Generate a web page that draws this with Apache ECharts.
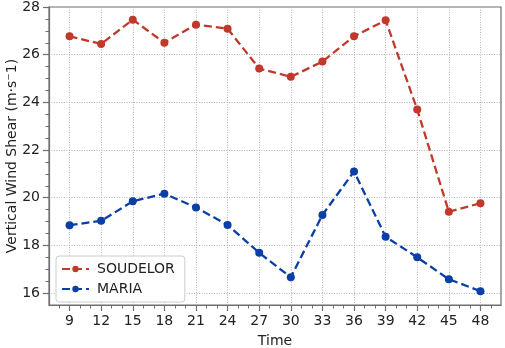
<!DOCTYPE html>
<html>
<head>
<meta charset="utf-8">
<script src="https://cdn.jsdelivr.net/npm/echarts@6/dist/echarts.min.js"></script>
<style>
  html, body { margin: 0; padding: 0; background: #fff; }
  #chart { width: 505px; height: 348px; }
</style>
</head>
<body>
<div id="chart"></div>
<script>
// data
var times = [9, 12, 15, 18, 21, 24, 27, 30, 33, 36, 39, 42, 45, 48]
var soudelor = [26.77, 26.45, 27.47, 26.5, 27.26, 27.09, 25.42, 25.07, 25.71, 26.77, 27.44, 23.7, 19.41, 19.77]
var maria = [18.85, 19.03, 19.85, 20.17, 19.59, 18.86, 17.69, 16.66, 19.28, 21.1, 18.36, 17.5, 16.58, 16.08]
var xTicks = [9, 12, 15, 18, 21, 24, 27, 30, 33, 36, 39, 42, 45, 48]
var xMinor = [8, 10, 11, 13, 14, 16, 17, 19, 20, 22, 23, 25, 26, 28, 29, 31, 32, 34, 35, 37, 38, 40, 41, 43, 44, 46, 47, 49]
var yTicks = [16, 18, 20, 22, 24, 26, 28]
var yMinor = [16.5, 17, 17.5, 18.5, 19, 19.5, 20.5, 21, 21.5, 22.5, 23, 23.5, 24.5, 25, 25.5, 26.5, 27, 27.5]

var font = 'DejaVu Sans'
var spine = '#6e6e6e'

function pairs(ys) {
  return times.map(function (t, i) { return [t, ys[i]] })
}

var chart = echarts.init(document.getElementById('chart'))

chart.setOption({
  animation: false,
  textStyle: { fontFamily: font },
  grid: {
    left: 49,
    right: 4,
    top: 7,
    bottom: 43,
    containLabel: false,
    outerBoundsMode: 'none',
    show: true,
    borderColor: spine,
    borderWidth: 1.2
  },
  legend: {
    orient: 'vertical',
    left: 56,
    top: 256,
    itemWidth: 27,
    itemHeight: 8,
    itemGap: 6,
    padding: [6, 10, 6, 5],
    backgroundColor: '#fff',
    borderColor: '#cccccc',
    borderWidth: 1,
    borderRadius: 3,
    textStyle: { fontSize: 14, color: '#222', fontFamily: font, padding: [0, 0, 0, 3] },
    data: ['SOUDELOR', 'MARIA']
  },
  xAxis: [{
    type: 'value',
    min: 7.05,
    max: 49.95,
    name: 'Time',
    nameLocation: 'middle',
    nameGap: 29,
    nameMoveOverlap: false,
    nameTextStyle: { fontSize: 14, color: '#222', fontFamily: font },
    axisLine: { show: true, lineStyle: { color: spine, width: 1.2 } },
    axisTick: { show: true, customValues: xTicks, length: 6, lineStyle: { color: spine, width: 1.2 } },
    axisLabel: { customValues: xTicks, fontSize: 14, color: '#222', margin: 9, fontFamily: font },
    splitLine: { show: true, lineStyle: { color: '#b5b5b5', type: [1, 1.5], width: 1 } }
  }, {
    type: 'value',
    min: 7.05,
    max: 49.95,
    position: 'bottom',
    axisLine: { show: false },
    axisTick: { show: true, customValues: xMinor, length: 3.5, lineStyle: { color: spine, width: 1 } },
    axisLabel: { show: false },
    splitLine: { show: false }
  }],
  yAxis: [{
    type: 'value',
    min: 15.5,
    max: 28,
    name: 'Vertical Wind Shear (m·s⁻1)',
    nameLocation: 'middle',
    nameGap: 30,
    nameMoveOverlap: false,
    nameTextStyle: { fontSize: 14, color: '#222', fontFamily: font },
    axisLine: { show: true, lineStyle: { color: spine, width: 1.2 } },
    axisTick: { show: true, customValues: yTicks, length: 6, lineStyle: { color: spine, width: 1.2 } },
    axisLabel: { customValues: yTicks, fontSize: 14, color: '#222', margin: 9, fontFamily: font },
    splitLine: { show: true, lineStyle: { color: '#b5b5b5', type: [1, 1.5], width: 1 } }
  }, {
    type: 'value',
    min: 15.5,
    max: 28,
    position: 'left',
    axisLine: { show: false },
    axisTick: { show: true, customValues: yMinor, length: 3.5, lineStyle: { color: spine, width: 1 } },
    axisLabel: { show: false },
    splitLine: { show: false }
  }],
  series: [{
    name: 'SOUDELOR',
    type: 'line',
    data: pairs(soudelor),
    symbol: 'circle',
    symbolSize: 8,
    itemStyle: { color: '#c0392b' },
    lineStyle: { color: '#c0392b', width: 2.3, type: [8, 4] }
  }, {
    name: 'MARIA',
    type: 'line',
    data: pairs(maria),
    symbol: 'circle',
    symbolSize: 8,
    itemStyle: { color: '#0b3fa8' },
    lineStyle: { color: '#0b3fa8', width: 2.3, type: [8, 4] }
  }]
})
</script>
</body>
</html>
